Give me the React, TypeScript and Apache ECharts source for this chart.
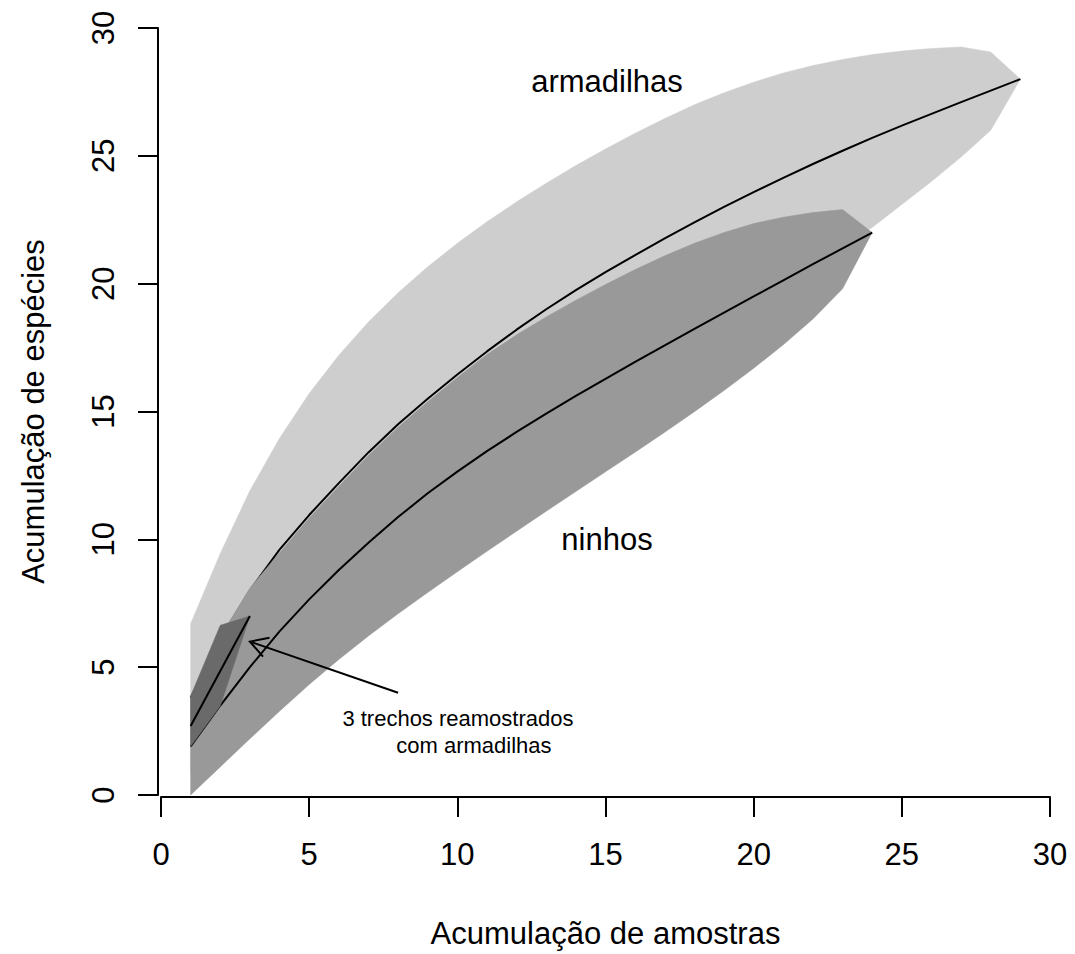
import React, { useEffect, useRef } from "react";
import * as echarts from "echarts";

// ---- data ----
const armX = [1, 2, 3, 4, 5, 6, 7, 8, 9, 10, 11, 12, 13, 14, 15, 16, 17, 18, 19, 20, 21, 22, 23, 24, 25, 26, 27, 28, 29];
const armMean = [3.8, 6.1, 8.0, 9.6, 10.95, 12.2, 13.4, 14.5, 15.5, 16.45, 17.35, 18.2, 19.0, 19.75, 20.45, 21.12, 21.77, 22.4, 23.0, 23.58, 24.14, 24.68, 25.2, 25.7, 26.18, 26.64, 27.1, 27.55, 28.0];
const armUpper = [6.7, 9.45, 11.9, 13.95, 15.7, 17.2, 18.5, 19.64, 20.66, 21.58, 22.42, 23.2, 23.93, 24.62, 25.27, 25.88, 26.46, 27.0, 27.47, 27.88, 28.24, 28.53, 28.77, 28.96, 29.1, 29.2, 29.26, 29.06, 28.0];
const armLower = [0.9, 2.75, 4.1, 5.25, 6.2, 7.2, 8.3, 9.36, 10.34, 11.32, 12.28, 13.2, 14.07, 14.88, 15.63, 16.36, 17.08, 17.8, 18.53, 19.28, 20.04, 20.83, 21.5, 22.2, 23.1, 24.0, 24.95, 26.0, 28.0];

const ninX = [1, 2, 3, 4, 5, 6, 7, 8, 9, 10, 11, 12, 13, 14, 15, 16, 17, 18, 19, 20, 21, 22, 23, 24];
const ninMean = [1.9, 3.5, 5.0, 6.4, 7.65, 8.8, 9.87, 10.87, 11.8, 12.65, 13.45, 14.2, 14.92, 15.61, 16.28, 16.94, 17.59, 18.23, 18.87, 19.5, 20.13, 20.76, 21.38, 22.0];
const ninUpper = [3.8, 6.2, 8.1, 9.48, 10.83, 12.08, 13.28, 14.38, 15.38, 16.33, 17.23, 18.0, 18.7, 19.35, 19.97, 20.55, 21.09, 21.58, 22.0, 22.35, 22.6, 22.78, 22.9, 22.0];
const ninLower = [0.0, 1.1, 2.2, 3.28, 4.32, 5.3, 6.22, 7.09, 7.92, 8.73, 9.53, 10.32, 11.1, 11.87, 12.64, 13.41, 14.19, 14.99, 15.82, 16.69, 17.61, 18.62, 19.8, 22.0];

const trechoX = [1, 2, 3];
const trechoMean = [2.7, 4.85, 7.0];
const trechoUpper = [3.87, 6.64, 7.0];
const trechoLower = [1.9, 3.48, 7.0];

const xTickValues = [0, 5, 10, 15, 20, 25, 30];
const yTickValues = [0, 5, 10, 15, 20, 25, 30];

const xTitle = "Acumulação de amostras";
const yTitle = "Acumulação de espécies";

// annotation anchors (data coordinates): [x, y, text]
const bigLabels: [number, number, string][] = [
  [15.05, 27.9, "armadilhas"],
  [15.05, 9.98, "ninhos"],
];
const smallLabels: [number, number, string][] = [
  [10.02, 3.0, "3 trechos reamostrados"],
  [10.56, 1.95, "com armadilhas"],
];
// arrow: from (x0,y0) to tip (x1,y1)
const arrowData = [[8.0, 4.0, 3.0, 6.0]];

const FONT = '"Liberation Sans", Arial, Helvetica, sans-serif';

function bandSeries(xs: number[], lo: number[], hi: number[], color: string, z: number) {
  return {
    type: "custom",
    coordinateSystem: "cartesian2d",
    z,
    silent: true,
    data: [[xs[0], lo[0]]],
    renderItem: (params: any, api: any) => {
      const pts: number[][] = [];
      for (let i = 0; i < xs.length; i++) pts.push(api.coord([xs[i], hi[i]]));
      for (let i = xs.length - 1; i >= 0; i--) pts.push(api.coord([xs[i], lo[i]]));
      return {
        type: "polygon",
        shape: { points: pts },
        style: { fill: color, stroke: color, lineWidth: 0.5 },
      };
    },
  };
}

function lineSeries(xs: number[], ys: number[], z: number) {
  return {
    type: "line",
    z,
    silent: true,
    symbol: "none",
    data: xs.map((x, i) => [x, ys[i]]),
    lineStyle: { color: "#000", width: 2 },
  };
}

function textSeries(items: [number, number, string][], size: number, z: number) {
  return {
    type: "custom",
    coordinateSystem: "cartesian2d",
    z,
    silent: true,
    data: items.map((d) => [d[0], d[1]]),
    renderItem: (params: any, api: any) => {
      const p = api.coord([api.value(0), api.value(1)]);
      return {
        type: "text",
        x: p[0],
        y: p[1],
        style: {
          text: items[params.dataIndex][2],
          fontSize: size,
          fontFamily: FONT,
          fill: "#000",
          textAlign: "center",
          textVerticalAlign: "middle",
        },
      };
    },
  };
}

export default function App() {
  const ref = useRef<HTMLDivElement>(null);
  useEffect(() => {
    if (!ref.current) return;
    const chart = echarts.init(ref.current, undefined, { renderer: "svg" });
    const axisCommon = {
      type: "value",
      min: 0,
      max: 30,
      interval: 5,
      axisLine: { show: true, onZero: false, lineStyle: { color: "#000", width: 2 } },
      axisTick: { show: true, inside: false, length: 20, lineStyle: { color: "#000", width: 2 } },
      splitLine: { show: false },
      nameLocation: "middle",
      nameTextStyle: { fontSize: 31, color: "#000", fontFamily: FONT },
    };
    chart.setOption({
      animation: false,
      backgroundColor: "#fff",
      grid: { left: 161, top: 28, width: 889, height: 768 },
      xAxis: {
        ...axisCommon,
        offset: 2,
        name: xTitle,
        nameGap: 121,
        axisLabel: {
          fontSize: 31,
          color: "#000",
          fontFamily: FONT,
          margin: 42,
          customValues: xTickValues,
        },
        axisTick: { ...axisCommon.axisTick, customValues: xTickValues },
      },
      yAxis: {
        ...axisCommon,
        offset: 3,
        name: yTitle,
        nameGap: 109,
        axisLabel: {
          fontSize: 31,
          color: "#000",
          fontFamily: FONT,
          margin: 39,
          rotate: 90,
          customValues: yTickValues,
        },
        axisTick: { ...axisCommon.axisTick, customValues: yTickValues },
      },
      series: [
        bandSeries(armX, armLower, armUpper, "#cecece", 1),
        lineSeries(armX, armMean, 2),
        bandSeries(ninX, ninLower, ninUpper, "#999999", 3),
        lineSeries(ninX, ninMean, 4),
        bandSeries(trechoX, trechoLower, trechoUpper, "#6a6a6a", 5),
        lineSeries(trechoX, trechoMean, 6),
        {
          type: "custom",
          coordinateSystem: "cartesian2d",
          z: 7,
          silent: true,
          data: arrowData,
          renderItem: (params: any, api: any) => {
            const p0 = api.coord([api.value(0), api.value(1)]);
            const p1 = api.coord([api.value(2), api.value(3)]);
            const ang = Math.atan2(p0[1] - p1[1], p0[0] - p1[0]);
            const L = 20;
            const a = Math.PI / 6;
            const h1 = [p1[0] + L * Math.cos(ang - a), p1[1] + L * Math.sin(ang - a)];
            const h2 = [p1[0] + L * Math.cos(ang + a), p1[1] + L * Math.sin(ang + a)];
            return {
              type: "group",
              children: [
                {
                  type: "line",
                  shape: { x1: p0[0], y1: p0[1], x2: p1[0], y2: p1[1] },
                  style: { stroke: "#000", lineWidth: 2 },
                },
                {
                  type: "polyline",
                  shape: { points: [h1, p1, h2] },
                  style: { stroke: "#000", lineWidth: 2, fill: null },
                },
              ],
            };
          },
        },
        textSeries(bigLabels, 31, 8),
        textSeries(smallLabels, 22, 8),
      ],
    });
    return () => chart.dispose();
  }, []);
  return (
    <div
      ref={ref}
      style={{ position: "fixed", left: 0, top: 0, width: 1075, height: 954, background: "#fff" }}
    />
  );
}
